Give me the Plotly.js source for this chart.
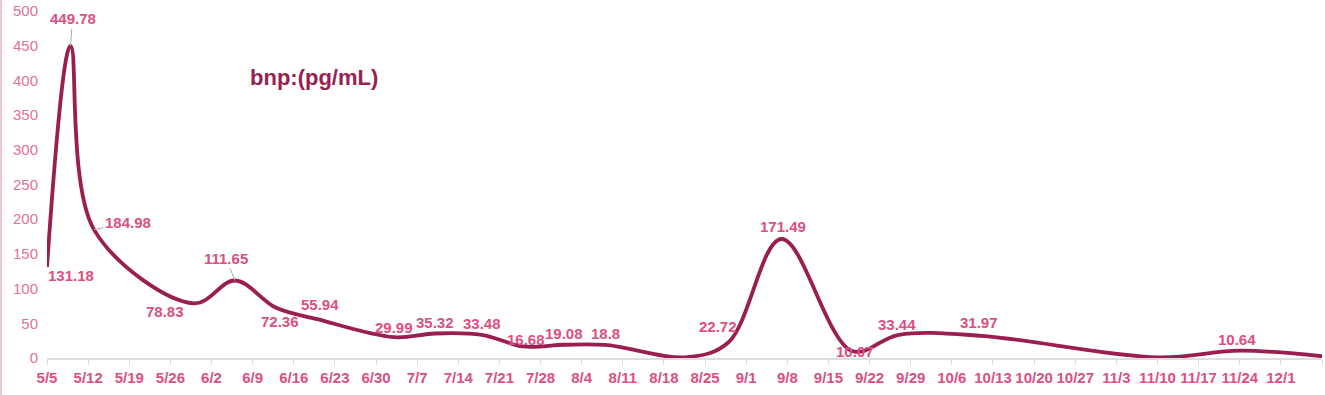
<!DOCTYPE html>
<html>
<head>
<meta charset="utf-8">
<script src="https://cdn.plot.ly/plotly-3.0.1.min.js"></script>
<style>
  html, body { margin: 0; padding: 0; background: #fff; }
  #chart { width: 1323px; height: 395px; border-left: 2px solid #efc6d6; }
</style>
</head>
<body>
<div id="chart"></div>
<script>
// Measurement dates (year arbitrary) and BNP values (pg/mL)
const dates = ['2023-05-05','2023-05-09','2023-05-13','2023-05-30','2023-06-06','2023-06-13','2023-06-20',
               '2023-07-03','2023-07-10','2023-07-18','2023-07-25','2023-08-01','2023-08-08','2023-08-22',
               '2023-08-29','2023-09-07','2023-09-19','2023-09-27','2023-10-11','2023-11-10','2023-11-24','2023-12-08'];
const values = [131.18, 449.78, 184.98, 78.83, 111.65, 72.36, 55.94,
                29.99, 35.32, 33.48, 16.68, 19.08, 18.8, 1.2,
                22.72, 171.49, 10.07, 33.44, 31.97, 1.0, 10.64, 2.5];
const labels = ['131.18','449.78','184.98','78.83','111.65','72.36','55.94',
                '29.99','35.32','33.48','16.68','19.08','18.8','',
                '22.72','171.49','10.07','33.44','31.97','','10.64',''];
const tickStart = '2023-05-05';
const axisEnd = '2023-12-08';
const chartTitle = 'bnp:(pg/mL)';

// label placement (pixel offsets of text centre from point, +y down), leader line flag
const labelOffsets = [[24,9,false],[2,-27,true],[34,-7,true],[-29,8,false],[-9,-22,true],[4,14,false],[3,-15,false],
                      [0,-10,false],[0,-11,false],[0,-11,false],[3,-7,false],[0,-11,false],[0,-11,false],[0,0,false],
                      [-11,-16,false],[2,-12,false],[3,0,false],[-2,-10,false],[-2,-13,false],[0,0,false],[-3,-11,false],[0,0,false]];

const labelColor = '#dd4f82';
const labelFont = {family: 'Liberation Sans, Arial, sans-serif', size: 15, color: labelColor};
const annotations = [];
labels.forEach((t, i) => {
  if (!t) return;
  const o = labelOffsets[i];
  const a = {
    x: dates[i], y: values[i], xref: 'x', yref: 'y',
    text: '<b>' + t + '</b>',
    xanchor: 'center', yanchor: 'middle',
    font: labelFont
  };
  if (o[2]) {
    Object.assign(a, {showarrow: true, arrowhead: 0, arrowwidth: 1, arrowcolor: '#aaaaaa',
                      ax: o[0], ay: o[1], axref: 'pixel', ayref: 'pixel', standoff: 0});
  } else {
    Object.assign(a, {showarrow: false, xshift: o[0], yshift: -o[1]});
  }
  annotations.push(a);
});

const trace = {
  x: dates, y: values, type: 'scatter', mode: 'lines',
  line: {shape: 'spline', smoothing: 1.0, color: '#9a1e50', width: 3.8},
  hoverinfo: 'x+y', cliponaxis: false
};

const layout = {
  width: 1323, height: 395,
  margin: {l: 45, r: 3, t: 11, b: 37},
  paper_bgcolor: '#ffffff', plot_bgcolor: '#ffffff',
  showlegend: false,
  title: {
    text: '<b>' + chartTitle + '</b>',
    x: 248 / 1323, xref: 'container', xanchor: 'left',
    y: 1 - 77 / 395, yref: 'container', yanchor: 'middle',
    font: {family: 'Liberation Sans, Arial, sans-serif', size: 22, color: '#9a1e50'}
  },
  xaxis: {
    type: 'date',
    range: [tickStart, axisEnd],
    tick0: tickStart, dtick: 7 * 86400000,
    tickformat: '%-m/%-d',
    showgrid: false, zeroline: false,
    showline: true, linecolor: '#dddddd', linewidth: 2,
    ticks: 'outside', ticklen: 5, tickcolor: '#dddddd', tickwidth: 1,
    tickfont: {family: 'Liberation Sans, Arial, sans-serif', size: 15, color: labelColor, weight: 'bold'},
    fixedrange: true
  },
  yaxis: {
    range: [0, 500], dtick: 50, tick0: 0,
    showgrid: false, zeroline: false, showline: false,
    ticks: '', ticklabelstandoff: 8,
    tickfont: {family: 'Liberation Sans, Arial, sans-serif', size: 15, color: '#e0729b'},
    fixedrange: true
  },
  annotations: annotations
};

Plotly.newPlot('chart', [trace], layout, {displayModeBar: false, staticPlot: true});
</script>
</body>
</html>
